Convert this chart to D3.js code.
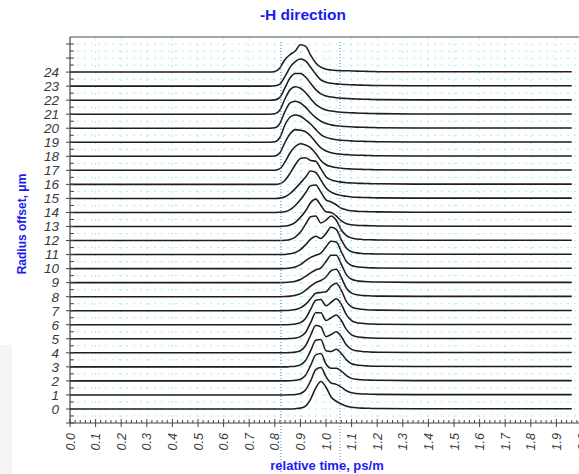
<!DOCTYPE html>
<html><head><meta charset="utf-8">
<script src="https://cdn.jsdelivr.net/npm/d3@7/dist/d3.min.js"></script>
<style>
html,body{margin:0;padding:0;background:#fff;}
svg{display:block;font-family:"Liberation Sans",Arial,sans-serif;}
</style></head>
<body><svg id="chart" width="579" height="474"></svg>
<script>
// ---- data ----
const offsets = [0,1,2,3,4,5,6,7,8,9,10,11,12,13,14,15,16,17,18,19,20,21,22,23,24];
const xTickLabels = ["0.0","0.1","0.2","0.3","0.4","0.5","0.6","0.7","0.8","0.9","1.0","1.1","1.2","1.3","1.4","1.5","1.6","1.7","1.8","1.9","2.0"];
const markerLines = [0.824, 1.055];
// sample positions across the pulse region
const xGrid = [0.80,0.82,0.84,0.86,0.88,0.90,0.92,0.94,0.96,0.98,1.00,1.02,1.04,1.06,1.08,1.10,1.12,1.14,1.16,1.18,1.20];
// amplitude of each trace at xGrid (in offset units)
const t00 = [0,0,0,0,0.02,0.06,0.2,0.7,1.5,1.95,1.55,0.85,0.55,0.35,0.2,0.12,0.08,0.06,0.05,0.04,0.03];
const t01 = [0,0,0,0.01,0.03,0.1,0.35,1.0,1.8,1.95,1.3,0.85,0.75,0.55,0.3,0.15,0.1,0.07,0.06,0.05,0.04];
const t02 = [0,0,0,0.01,0.04,0.12,0.4,1.1,1.85,1.95,1.2,0.9,0.9,0.7,0.38,0.18,0.11,0.08,0.06,0.05,0.04];
const t03 = [0,0,0,0.02,0.05,0.14,0.45,1.15,1.9,1.95,1.15,1.1,1.25,0.95,0.5,0.22,0.13,0.09,0.07,0.05,0.04];
const t04 = [0,0,0,0.02,0.05,0.15,0.5,1.25,1.95,1.85,1.15,1.3,1.5,1.15,0.55,0.25,0.14,0.1,0.07,0.05,0.04];
const t05 = [0,0,0,0.02,0.05,0.15,0.45,1.15,1.85,1.85,1.3,1.5,1.7,1.3,0.65,0.28,0.15,0.1,0.07,0.05,0.04];
const t06 = [0,0,0,0.02,0.06,0.15,0.45,1.1,1.75,1.8,1.35,1.6,1.85,1.45,0.7,0.3,0.15,0.1,0.07,0.05,0.04];
const t07 = [0,0,0.01,0.03,0.08,0.2,0.45,0.85,1.25,1.3,1.35,1.75,1.95,1.45,0.65,0.27,0.15,0.1,0.07,0.05,0.04];
const t08 = [0,0,0.01,0.04,0.1,0.22,0.45,0.75,1.0,1.15,1.4,1.85,1.95,1.35,0.6,0.25,0.14,0.09,0.07,0.05,0.04];
const t09 = [0,0,0.01,0.04,0.1,0.22,0.45,0.7,0.9,1.05,1.5,1.95,1.95,1.3,0.55,0.24,0.14,0.09,0.07,0.05,0.04];
const t10 = [0,0,0.01,0.04,0.12,0.28,0.55,0.8,0.95,1.1,1.55,1.95,1.9,1.2,0.5,0.22,0.13,0.09,0.07,0.05,0.04];
const t11 = [0,0,0.01,0.05,0.15,0.35,0.7,1.1,1.3,1.15,1.5,1.95,1.8,1.05,0.45,0.2,0.12,0.08,0.06,0.05,0.04];
const t12 = [0,0,0.02,0.08,0.25,0.6,1.15,1.7,1.75,1.25,1.45,1.75,1.45,0.75,0.35,0.18,0.11,0.08,0.06,0.05,0.04];
const t13 = [0,0,0.03,0.1,0.3,0.65,1.1,1.7,1.95,1.5,1.05,1.0,0.75,0.4,0.2,0.12,0.09,0.07,0.06,0.05,0.04];
const t14 = [0,0.01,0.05,0.2,0.5,0.9,1.4,1.9,1.95,1.45,0.9,0.75,0.55,0.3,0.18,0.12,0.09,0.07,0.06,0.05,0.04];
const t15 = [0,0.02,0.12,0.35,0.7,1.1,1.5,1.95,1.85,1.3,0.75,0.45,0.3,0.2,0.15,0.1,0.08,0.07,0.06,0.05,0.04];
const t16 = [0,0.05,0.3,0.8,1.4,1.85,1.9,1.7,1.65,1.1,0.55,0.32,0.22,0.16,0.12,0.1,0.08,0.07,0.06,0.05,0.04];
const t17 = [0.01,0.12,0.6,1.25,1.7,1.9,1.8,1.6,1.2,0.7,0.4,0.27,0.2,0.15,0.12,0.1,0.08,0.07,0.06,0.05,0.04];
const t18 = [0.02,0.25,1.0,1.6,1.9,1.85,1.75,1.45,1.0,0.6,0.38,0.26,0.19,0.15,0.12,0.1,0.08,0.07,0.06,0.05,0.04];
const t19 = [0.03,0.35,1.25,1.8,1.95,1.85,1.6,1.3,0.9,0.55,0.35,0.25,0.18,0.14,0.12,0.1,0.08,0.07,0.06,0.05,0.04];
const t20 = [0.03,0.35,1.2,1.8,1.92,1.8,1.5,1.1,0.75,0.5,0.33,0.24,0.18,0.14,0.12,0.1,0.08,0.07,0.06,0.05,0.04];
const t21 = [0.03,0.3,1.1,1.75,1.95,1.85,1.55,1.1,0.7,0.45,0.3,0.22,0.17,0.14,0.12,0.1,0.08,0.07,0.06,0.05,0.04];
const t22 = [0.02,0.2,0.9,1.6,1.9,1.9,1.65,1.2,0.75,0.45,0.3,0.22,0.17,0.14,0.12,0.1,0.08,0.07,0.06,0.05,0.04];
const t23 = [0.02,0.15,0.7,1.35,1.75,1.93,1.8,1.35,0.85,0.45,0.28,0.2,0.16,0.13,0.11,0.1,0.08,0.07,0.06,0.05,0.04];
const t24 = [0.05,0.3,0.9,1.25,1.5,1.95,1.85,1.2,0.65,0.35,0.2,0.15,0.12,0.1,0.1,0.08,0.07,0.06,0.05,0.04,0.03];
const traceValues = [t00,t01,t02,t03,t04,t05,t06,t07,t08,t09,t10,t11,t12,t13,t14,t15,t16,t17,t18,t19,t20,t21,t22,t23,t24];
// level of the flat tail (x 1.35 .. 1.96)
const tailX = [1.35, 1.96];
const tailLevels = [0.02,0.02,0.02,0.02,0.02,0.02,0.02,0.02,0.02,0.02,0.02,0.02,0.02,0.02,0.02,0.02,0.02,0.02,0.02,0.02,0.02,0.02,0.02,0.03,0.03];

// ---- layout ----
const svg = d3.select("#chart");
const W = 579, H = 474;
const x = d3.scaleLinear().domain([0, 2]).range([70, 582]);
const y = d3.scaleLinear().domain([-1, 26.5]).range([423, 37]);

// faint panel at bottom-left
svg.append("rect").attr("x",0).attr("y",345).attr("width",12).attr("height",129).attr("fill","#f5f5f5");

// grid
const grid = svg.append("g");
d3.range(1, 20).forEach(i => {
  grid.append("line").attr("x1", x(i/10)).attr("x2", x(i/10)).attr("y1", y(26.5)).attr("y2", y(-1))
    .attr("stroke", "#a8eef6").attr("stroke-width", 1).attr("stroke-dasharray", "2,5");
});
d3.range(-0.5, 26.5, 0.5).forEach(v => {
  grid.append("line").attr("x1", x(0)).attr("x2", W).attr("y1", y(v)).attr("y2", y(v))
    .attr("stroke", "#a8eef6").attr("stroke-width", 1).attr("stroke-dasharray", "2,5");
});

// top border
svg.append("line").attr("x1", x(0)).attr("x2", W).attr("y1", y(26.5)).attr("y2", y(26.5))
  .attr("stroke", "#888").attr("stroke-width", 1.5);

// traces
const line = d3.line().x(d => x(d[0])).y(d => y(d[1])).curve(d3.curveMonotoneX);
offsets.forEach((k, i) => {
  const pts = [[0, k], [0.78, k]];
  xGrid.forEach((xv, j) => pts.push([xv, k + traceValues[i][j]]));
  tailX.forEach(xv => pts.push([xv, k + tailLevels[i]]));
  svg.append("path").attr("d", line(pts)).attr("fill", "none")
    .attr("stroke", "#1e1e1e").attr("stroke-width", 1.55);
});

// marker lines
markerLines.forEach(m => {
  svg.append("line").attr("x1", x(m)).attr("x2", x(m)).attr("y1", 42).attr("y2", H)
    .attr("stroke", "#4a7fd0").attr("stroke-width", 1).attr("stroke-dasharray", "1,2");
});

// y axis
const yAxisG = svg.append("g").attr("transform", `translate(${x(0)},0)`);
yAxisG.append("line").attr("y1", y(26.5)).attr("y2", y(-1)).attr("stroke", "#444").attr("stroke-width", 1.2);
d3.range(-1, 27).forEach(v => {
  yAxisG.append("line").attr("x1", -4).attr("x2", 4).attr("y1", y(v)).attr("y2", y(v)).attr("stroke", "#444");
});
d3.range(-0.5, 26.5, 1).forEach(v => {
  yAxisG.append("line").attr("x1", 0).attr("x2", 4).attr("y1", y(v)).attr("y2", y(v)).attr("stroke", "#444");
});
offsets.forEach(k => {
  yAxisG.append("text").attr("x", -11).attr("y", y(k)).attr("dy", "0.36em")
    .attr("text-anchor", "end").attr("font-size", 13.5).attr("font-style", "italic")
    .attr("fill", "#3a3a3a").text(k);
});

// x axis
const xAxisG = svg.append("g").attr("transform", `translate(0,${y(-1)})`);
xAxisG.append("line").attr("x1", x(0)).attr("x2", W).attr("stroke", "#444").attr("stroke-width", 1.2);
d3.range(0, 101).forEach(i => {
  const v = i / 50;
  const major = i % 5 === 0;
  xAxisG.append("line").attr("x1", x(v)).attr("x2", x(v))
    .attr("y1", major ? -4 : -3).attr("y2", major ? 4 : 0).attr("stroke", "#444");
});
xTickLabels.forEach((lab, i) => {
  const v = i / 10;
  xAxisG.append("text").attr("transform", `translate(${x(v)},10) rotate(-90)`)
    .attr("dy", "0.36em").attr("text-anchor", "end").attr("font-size", 12.5)
    .attr("font-style", "italic").attr("fill", "#3a3a3a").text(lab);
});

// titles
svg.append("text").attr("x", 303).attr("y", 20).attr("text-anchor", "middle")
  .attr("font-size", 15.5).attr("font-weight", "bold").attr("fill", "#1c1cf0").text("-H direction");
svg.append("text").attr("x", 327).attr("y", 470).attr("text-anchor", "middle")
  .attr("font-size", 13).attr("font-weight", "bold").attr("fill", "#1c1cf0").text("relative time, ps/m");
svg.append("text").attr("transform", "translate(26,224) rotate(-90)").attr("text-anchor", "middle")
  .attr("font-size", 12).attr("font-weight", "bold").attr("fill", "#1c1cf0").text("Radius offset, μm");
</script></body></html>
